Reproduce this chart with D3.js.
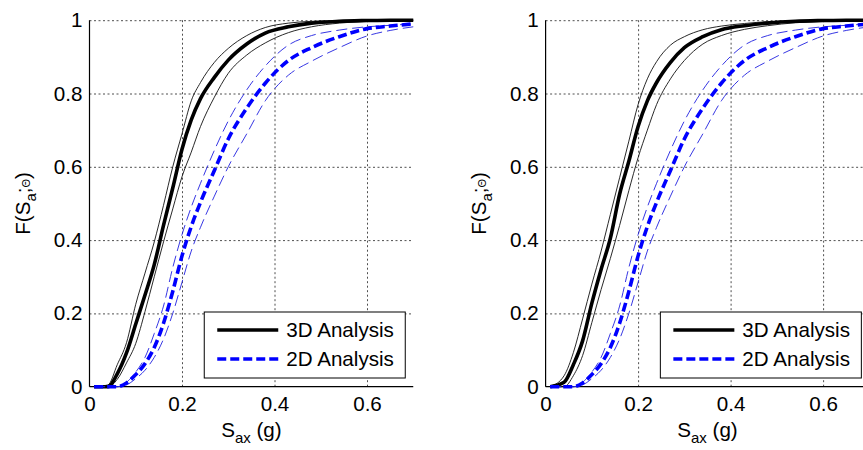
<!DOCTYPE html>
<html>
<head>
<meta charset="utf-8">
<script src="https://cdn.jsdelivr.net/npm/d3@7"></script>
<style>
  body { margin: 0; background: #fff; }
  svg text { font-family: "Liberation Sans", Arial, sans-serif; fill: #000; }
</style>
</head>
<body>
<div id="chart"></div>
<script>
// spectral acceleration samples (g)
const sa = [0.01, 0.04, 0.06, 0.08, 0.10, 0.12, 0.14, 0.16, 0.18, 0.20, 0.22,
  0.24, 0.27, 0.30, 0.34, 0.38, 0.43, 0.48, 0.54, 0.60, 0.65, 0.70];

// left panel, 3D analysis: median and bounds
const leftMed3D = [0, 0, 0.035, 0.092, 0.171, 0.25, 0.333, 0.44, 0.542, 0.648, 0.728,
  0.786, 0.844, 0.891, 0.935, 0.965, 0.982, 0.992, 0.997, 0.999, 1, 1];
const leftHi3D = [0, 0.005, 0.06, 0.12, 0.225, 0.31, 0.395, 0.495, 0.6, 0.69, 0.78,
  0.83, 0.885, 0.923, 0.958, 0.98, 0.992, 0.997, 0.999, 1, 1, 1];
const leftLo3D = [0, 0, 0.02, 0.065, 0.118, 0.205, 0.3, 0.395, 0.485, 0.573, 0.64,
  0.71, 0.79, 0.855, 0.905, 0.938, 0.966, 0.982, 0.992, 0.997, 0.999, 1];

// right panel, 3D analysis
const rightMed3D = [0, 0.012, 0.06, 0.125, 0.228, 0.32, 0.405, 0.525, 0.615, 0.71, 0.78,
  0.83, 0.885, 0.925, 0.955, 0.974, 0.985, 0.992, 0.997, 0.999, 1, 1];
const rightHi3D = [0, 0.03, 0.093, 0.185, 0.28, 0.37, 0.47, 0.57, 0.67, 0.77, 0.84,
  0.887, 0.932, 0.955, 0.974, 0.984, 0.991, 0.996, 0.998, 1, 1, 1];
const rightLo3D = [0, 0, 0.03, 0.085, 0.175, 0.265, 0.35, 0.44, 0.535, 0.625, 0.7,
  0.77, 0.84, 0.89, 0.935, 0.958, 0.975, 0.985, 0.993, 0.997, 0.999, 1];

// 2D analysis (same in both panels)
const med2D = [0, 0, 0, 0.01, 0.033, 0.063, 0.107, 0.173, 0.26, 0.357, 0.437,
  0.503, 0.59, 0.676, 0.76, 0.828, 0.89, 0.925, 0.955, 0.977, 0.984, 0.99];
const hi2D = [0, 0, 0, 0.012, 0.04, 0.08, 0.145, 0.22, 0.325, 0.415, 0.49,
  0.555, 0.645, 0.725, 0.81, 0.875, 0.932, 0.958, 0.973, 0.982, 0.986, 0.99];
const lo2D = [0, 0, 0, 0.005, 0.022, 0.045, 0.08, 0.13, 0.2, 0.285, 0.37,
  0.435, 0.52, 0.6, 0.69, 0.78, 0.85, 0.888, 0.925, 0.957, 0.972, 0.982];

const xTicks = [0, 0.2, 0.4, 0.6];
const yTicks = [0, 0.2, 0.4, 0.6, 0.8, 1];
const legendLabels = ["3D Analysis", "2D Analysis"];

const W = 863;
const H = 450;
const plotW = 323.75;
const plotTop = 20.2;
const plotBottom = 386.7;
const fontSize = "20.6px";

var svg = d3
  .select("#chart")
  .append("svg")
  .attr("width", W)
  .attr("height", H);

drawPanel(89.5, [leftMed3D, leftHi3D, leftLo3D], [med2D, hi2D, lo2D]);
drawPanel(545.6, [rightMed3D, rightHi3D, rightLo3D], [med2D, hi2D, lo2D]);

function drawPanel(left, s3, s2) {
  var x = d3.scaleLinear().domain([0, 0.7]).range([left, left + plotW]);
  var y = d3.scaleLinear().domain([0, 1]).range([plotBottom, plotTop]);
  var g = svg.append("g");

  //axes with grid lines as inner ticks
  var xAxis = g
    .append("g")
    .attr("transform", "translate(0," + plotBottom + ")")
    .call(
      d3.axisBottom(x)
        .tickValues(xTicks)
        .tickSize(-(plotBottom - plotTop))
        .tickPadding(10)
        .tickFormat(d3.format("~g"))
    );
  var yAxis = g
    .append("g")
    .attr("transform", "translate(" + left + ",0)")
    .call(
      d3.axisLeft(y)
        .tickValues(yTicks)
        .tickSize(-plotW)
        .tickPadding(7)
        .tickFormat(d3.format("~g"))
    );
  [xAxis, yAxis].forEach(function (a) {
    a.select(".domain").remove();
    a.selectAll("text")
      .style("font-family", '"Liberation Sans", Arial, sans-serif')
      .style("font-size", fontSize);
    a.selectAll("line")
      .attr("stroke", "#222")
      .attr("stroke-width", 0.8)
      .attr("stroke-dasharray", "2,2.5");
  });
  xAxis.selectAll(".tick").filter(function (d) { return d === 0; }).select("line").remove();
  yAxis.selectAll(".tick").filter(function (d) { return d === 0; }).select("line").remove();

  //solid left and bottom axis lines
  g.append("line")
    .attr("x1", left).attr("x2", left)
    .attr("y1", plotTop).attr("y2", plotBottom)
    .attr("stroke", "#000").attr("stroke-width", 1.2);
  g.append("line")
    .attr("x1", left).attr("x2", left + plotW)
    .attr("y1", plotBottom).attr("y2", plotBottom)
    .attr("stroke", "#000").attr("stroke-width", 1.2);

  var line = function (vals) {
    return d3.line()
      .x(function (d, i) { return x(sa[i]); })
      .y(function (d) { return y(d); })
      .curve(d3.curveMonotoneX)(vals);
  };

  //3D bounds and median
  [s3[1], s3[2]].forEach(function (s) {
    g.append("path").attr("d", line(s))
      .attr("fill", "none").attr("stroke", "#111").attr("stroke-width", 0.9);
  });
  g.append("path").attr("d", line(s3[0]))
    .attr("fill", "none").attr("stroke", "#000").attr("stroke-width", 3.6);

  //2D bounds and median
  [s2[1], s2[2]].forEach(function (s) {
    g.append("path").attr("d", line(s))
      .attr("fill", "none").attr("stroke", "#2020e0").attr("stroke-width", 0.9)
      .attr("stroke-dasharray", "11,5");
  });
  g.append("path").attr("d", line(s2[0]))
    .attr("fill", "none").attr("stroke", "#0000ff").attr("stroke-width", 3.6)
    .attr("stroke-dasharray", "9,4");

  //legend
  var lx = left + plotW - 8 - 201;
  var lg = g.append("g");
  lg.append("rect")
    .attr("x", lx).attr("y", 312)
    .attr("width", 201).attr("height", 66)
    .attr("fill", "#fff").attr("stroke", "#000").attr("stroke-width", 1);
  legendLabels.forEach(function (lab, i) {
    var ly = 330 + i * 29;
    lg.append("line")
      .attr("x1", lx + 13).attr("x2", lx + 74)
      .attr("y1", ly).attr("y2", ly)
      .attr("stroke", i === 0 ? "#000" : "#0000ff")
      .attr("stroke-width", 3.6)
      .attr("stroke-dasharray", i === 0 ? null : "9,4");
    lg.append("text")
      .attr("x", lx + 82).attr("y", ly)
      .attr("dy", "0.35em")
      .style("font-size", fontSize)
      .text(lab);
  });

  //x label
  var xl = g.append("text")
    .attr("x", left + plotW / 2).attr("y", 437)
    .attr("text-anchor", "middle")
    .style("font-size", fontSize);
  xl.append("tspan").text("S");
  xl.append("tspan").attr("dy", 6).style("font-size", "15px").text("ax");
  xl.append("tspan").attr("dy", -6).text(" (g)");

  //y label
  var yl = g.append("text")
    .attr("transform", "translate(" + (left - 60) + "," + (plotTop + plotBottom) / 2 + ") rotate(-90)")
    .attr("text-anchor", "middle")
    .style("font-size", fontSize);
  yl.append("tspan").text("F(S");
  yl.append("tspan").attr("dy", 6).style("font-size", "15px").text("a");
  yl.append("tspan").attr("dy", -6).text(";");
  yl.append("tspan").style("font-size", "11px").text("\u0398");
  yl.append("tspan").text(")");
}
</script>
</body>
</html>
